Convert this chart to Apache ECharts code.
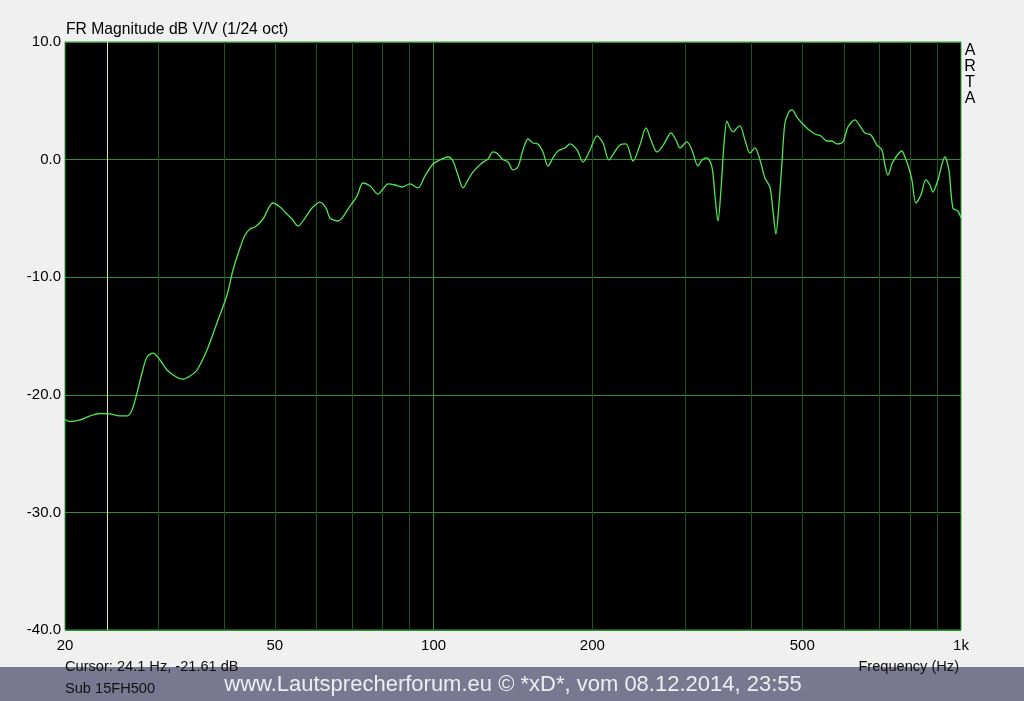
<!DOCTYPE html>
<html>
<head>
<meta charset="utf-8">
<script src="https://cdn.jsdelivr.net/npm/echarts@6/dist/echarts.min.js"></script>
<style>
html,body{margin:0;padding:0;background:#f0f0f0;}
#c{width:1024px;height:701px;}
</style>
</head>
<body>
<div id="c"></div>
<script>
const freqHz = [20.0,20.44,21.35,22.31,23.30,24.34,25.43,26.22,26.80,27.39,
27.99,28.61,29.37,30.28,31.22,32.62,33.48,34.52,35.59,37.18,
38.83,40.57,41.65,42.94,43.89,44.86,45.85,47.48,49.59,51.13,
52.26,53.88,55.32,57.03,58.80,60.89,62.51,63.61,65.87,69.41,
71.57,73.47,75.75,78.44,80.17,81.94,84.48,87.10,90.20,93.40,
96.30,99.72,102.8,106.5,108.8,111.2,113.7,116.2,118.8,123.5,
126.8,129.6,132.4,134.8,138.4,141.4,144.5,147.7,151.0,154.3,
157.7,161.2,164.8,168.4,172.1,177.5,181.4,187.0,192.0,197.9,
204.1,209.5,215.0,219.8,225.6,231.6,238.8,246.2,252.7,258.3,
265.2,273.4,281.9,288.1,293.2,302.2,308.9,317.1,322.7,329.8,
337.1,341.5,346.1,350.6,355.2,359.9,364.7,369.5,376.0,380.9,
389.3,397.9,406.7,415.7,424.8,434.2,439.9,445.7,451.6,457.6,
463.6,471.7,478.0,488.5,499.3,512.5,528.5,542.5,556.9,569.2,
581.7,597.2,610.4,629.3,643.2,657.4,674.8,692.7,708.0,717.4,
726.8,742.8,772.6,782.8,793.1,807.1,821.3,839.4,857.9,873.0,
884.5,904.1,932.1,948.6,965.3,986.6,1000];
const magDb = [-22.10,-22.27,-22.14,-21.80,-21.59,-21.63,-21.80,-21.80,-21.29,-19.85,
-18.15,-16.79,-16.45,-17.04,-17.89,-18.53,-18.66,-18.40,-17.89,-16.19,
-13.89,-11.51,-9.39,-7.52,-6.41,-5.90,-5.73,-5.05,-3.69,-4.03,
-4.46,-5.05,-5.65,-4.97,-4.12,-3.61,-4.12,-4.97,-5.22,-3.95,
-3.10,-1.99,-2.24,-2.93,-2.50,-2.07,-2.16,-2.33,-2.07,-2.41,
-1.39,-0.37,-0.03,0.22,-0.12,-1.31,-2.41,-1.73,-1.05,-0.29,
0.05,0.65,0.48,0.05,-0.20,-0.88,-0.63,0.82,1.75,1.41,
1.33,0.65,-0.54,0.14,0.73,0.99,1.33,0.82,-0.20,0.82,
2.01,1.41,-0.03,0.56,1.24,1.33,-0.12,1.24,2.69,1.67,
0.65,1.33,2.26,1.67,0.99,1.50,0.82,-0.54,-0.03,0.14,
-0.63,-3.01,-5.22,-2.59,1.24,3.28,2.69,2.35,2.69,2.86,
1.67,0.56,0.99,-0.03,-1.56,-2.33,-4.29,-6.33,-3.86,-0.29,
3.11,4.05,4.22,3.62,3.11,2.60,2.18,2.01,1.58,1.58,
1.33,1.50,2.77,3.37,2.86,2.26,2.09,1.24,0.82,-0.46,
-1.31,-0.20,0.73,0.22,-0.46,-1.73,-3.69,-3.01,-1.73,-2.16,
-2.76,-1.73,0.22,-0.88,-4.12,-4.37,-4.97];
const xLabelValues = [20, 50, 100, 200, 500, 1000];
const minorGridFreqs = [30, 40, 50, 60, 70, 80, 90, 200, 300, 400, 500, 600, 700, 800, 900];
const majorGridFreqs = [100];
const cursorFreq = 24.1;
const titleText = 'FR Magnitude dB V/V (1/24 oct)';
const cursorText = 'Cursor: 24.1 Hz, -21.61 dB';
const nameText = 'Sub 15FH500';
const xAxisName = 'Frequency (Hz)';
const footerText = 'www.Lautsprecherforum.eu \u00A9 *xD*, vom 08.12.2014, 23:55';
const brand = ['A', 'R', 'T', 'A'];

const FONT = '"Liberation Sans", Arial, sans-serif';
const chart = echarts.init(document.getElementById('c'), null, {renderer: 'canvas'});
const graphics = [
  {type: 'rect', left: 0, top: 667, shape: {width: 1024, height: 34}, style: {fill: '#787890'}, z: 0},
  {type: 'text', x: 66, y: 30, style: {text: titleText, font: '15.7px ' + FONT, fill: '#000', textVerticalAlign: 'middle'}, z: 5},
  {type: 'text', x: 65, y: 667, style: {text: cursorText, font: '14.6px ' + FONT, fill: '#111', textVerticalAlign: 'middle'}, z: 5},
  {type: 'text', x: 65, y: 689, style: {text: nameText, font: '14.6px ' + FONT, fill: '#111', textVerticalAlign: 'middle'}, z: 5},
  {type: 'text', x: 959, y: 667, style: {text: xAxisName, font: '14.6px ' + FONT, fill: '#111', textAlign: 'right', textVerticalAlign: 'middle'}, z: 5},
  {type: 'text', x: 513, y: 685, style: {text: footerText, font: '22px ' + FONT, fill: '#eeeef2', textAlign: 'center', textVerticalAlign: 'middle'}, z: 5}
];
brand.forEach((ch, i) => {
  graphics.push({type: 'text', x: 970, y: 51 + i * 16, style: {text: ch, font: '16px ' + FONT, fill: '#000', textAlign: 'center', textVerticalAlign: 'middle'}, z: 5});
});

const gridLines = minorGridFreqs.map(f => ({xAxis: f, lineStyle: {color: '#1d531d'}}))
  .concat(majorGridFreqs.map(f => ({xAxis: f, lineStyle: {color: '#2f8f2f'}})))
  .concat([{xAxis: cursorFreq, lineStyle: {color: '#e6e6a0'}}]);

chart.setOption({
  backgroundColor: '#f0f0f0',
  animation: false,
  grid: {left: 65, right: 63, top: 42, bottom: 71, show: true, backgroundColor: '#000', borderColor: '#33a833', borderWidth: 1},
  xAxis: {
    type: 'log', logBase: 10, min: 20, max: 1000,
    axisLine: {show: false}, axisTick: {show: false}, splitLine: {show: false},
    axisLabel: {
      customValues: xLabelValues,
      color: '#000', fontFamily: FONT, fontSize: 15, margin: 8,
      formatter: v => v >= 1000 ? (v / 1000) + 'k' : String(v)
    }
  },
  yAxis: {
    type: 'value', min: -40, max: 10, interval: 10,
    axisLine: {show: false}, axisTick: {show: false},
    splitLine: {show: true, lineStyle: {color: '#2f8f2f', width: 1}},
    axisLabel: {color: '#000', fontFamily: FONT, fontSize: 15, margin: 4, formatter: v => v.toFixed(1)}
  },
  graphic: graphics,
  series: [{
    type: 'line',
    data: freqHz.map((f, i) => [f, magDb[i]]),
    showSymbol: false,
    smooth: 0.3,
    lineStyle: {color: '#50e650', width: 1.3},
    z: 3,
    markLine: {
      silent: true, symbol: 'none', label: {show: false},
      lineStyle: {type: 'solid', width: 1},
      data: gridLines,
      z: 1
    }
  }]
});
</script>
</body>
</html>
